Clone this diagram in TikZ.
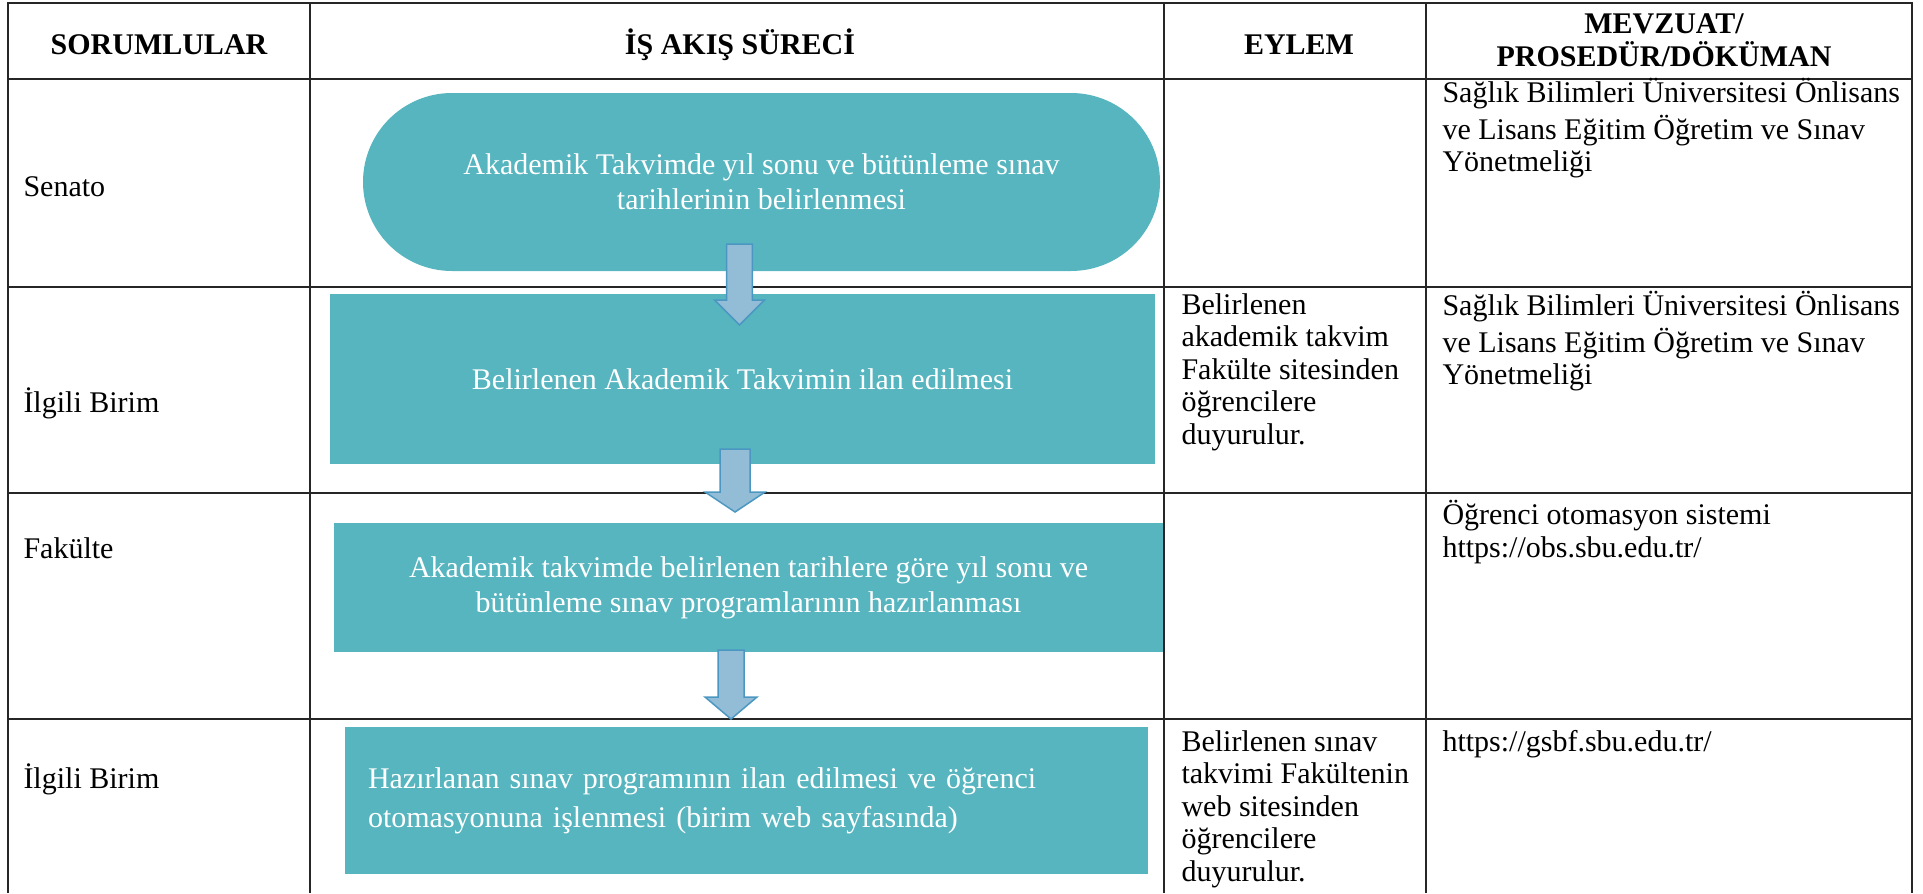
\documentclass[tikz,border=0pt]{standalone}
\usepackage{fontspec}
\setmainfont{Liberation Serif}
\usetikzlibrary{calc}
\definecolor{flowteal}{RGB}{86,181,191}
\definecolor{arrowblue}{RGB}{147,189,214}
\definecolor{arrowedge}{RGB}{75,151,194}
\tikzset{
  gridline/.style={line width=0.8pt, draw=black!85},
  headtext/.style={font=\bfseries\fontsize{12}{13.2}\selectfont, align=center, inner sep=0pt},
  rowlabel/.style={font=\fontsize{12}{13.6}\selectfont, anchor=base west, inner sep=0pt},
  celltext/.style={font=\fontsize{12}{13}\selectfont, anchor=north west, align=left, inner sep=0pt},
  flowbox/.style={fill=flowteal, text=white, inner sep=0pt, align=center, font=\fontsize{12}{14}\selectfont},
  blockarrow/.style={fill=arrowblue, draw=arrowedge, line width=0.6pt, line join=miter}
}
\newcommand{\flowarrow}[5]{%
  \draw[blockarrow] ($(#1)+(-#3,0)$) -- ($(#1)+(#3,0)$) -- ($(#2)+(#3,-#5)$) -- ($(#2)+(#4,-#5)$)
    -- (#2) -- ($(#2)+(-#4,-#5)$) -- ($(#2)+(-#3,-#5)$) -- cycle;}
\begin{document}
\begin{tikzpicture}[x=0.4pt, y=-0.4pt]
    \useasboundingbox (0,0) rectangle (1923,893);
    \draw[gridline] (8,893) -- (8,3) -- (1912,3) -- (1912,893);
    \draw[gridline] (310,3) -- (310,893);
    \draw[gridline] (1164,3) -- (1164,893);
    \draw[gridline] (1426,3) -- (1426,893);
    \draw[gridline, line width=1.1pt] (8,79) -- (1912,79);
    \draw[gridline] (8,287) -- (1912,287);
    \draw[gridline] (8,493) -- (1912,493);
    \draw[gridline] (8,719) -- (1912,719);

    \node[headtext] (h1) at (159,45) {SORUMLULAR};
    \node[headtext] (h2) at (740,45) {İŞ AKIŞ SÜRECİ};
    \node[headtext] (h3) at (1299,45) {EYLEM};
    \node[headtext] (h4) at (1664,40) {MEVZUAT/\\PROSEDÜR/DÖKÜMAN};

    \node[rowlabel] (r1) at (23,196) {Senato};
    \node[rowlabel] (r2) at (23,412) {İlgili Birim};
    \node[rowlabel] (r3) at (23,558) {Fakülte};
    \node[rowlabel] (r4) at (23,788) {İlgili Birim};

    \node[flowbox, rounded corners=35.6pt, minimum width=318.8pt, minimum height=71.2pt] (s1) at (761.5,182)
        {Akademik Takvimde yıl sonu ve bütünleme sınav\\tarihlerinin belirlenmesi};
    \node[flowbox, minimum width=330pt, minimum height=68pt] (s2) at (742.5,379)
        {Belirlenen Akademik Takvimin ilan edilmesi};
    \node[flowbox, minimum width=331.6pt, minimum height=51.6pt] (s3) at (748.5,587.5)
        {Akademik takvimde belirlenen tarihlere göre yıl sonu ve\\bütünleme sınav programlarının hazırlanması};
    \node[flowbox, minimum width=321.2pt, minimum height=58.8pt, align=left, text width=302.8pt,
        inner xsep=9.2pt, font=\fontsize{12}{15.6}\selectfont] (s4) at (746.5,800.5)
        {Hazırlanan sınav programının ilan edilmesi ve öğrenci\\otomasyonuna işlenmesi (birim web sayfasında)};

    \coordinate (a1s) at (739.5,244);
    \coordinate (a1e) at (739.5,325);
    \coordinate (a2s) at (735,449);
    \coordinate (a2e) at (735,512);
    \coordinate (a3s) at (731,650);
    \coordinate (a3e) at (731,719);
    \flowarrow{a1s}{a1e}{12.8}{25}{25}
    \flowarrow{a2s}{a2e}{15}{30}{20}
    \flowarrow{a3s}{a3e}{13}{26}{22}

    \node[celltext] (e2) at (1181,291)
        {\strut Belirlenen\\akademik takvim\\Fakülte sitesinden\\öğrencilere\\duyurulur.};
    \node[celltext] (e4) at (1181,728)
        {\strut Belirlenen sınav\\takvimi Fakültenin\\web sitesinden\\öğrencilere\\duyurulur.};

    \node[celltext] (m1) at (1442,78)
        {\strut Sağlık Bilimleri Üniversitesi Önlisans\\ve Lisans Eğitim Öğretim ve Sınav\\Yönetmeliği};
    \node[celltext] (m2) at (1442,291)
        {\strut Sağlık Bilimleri Üniversitesi Önlisans\\ve Lisans Eğitim Öğretim ve Sınav\\Yönetmeliği};
    \node[celltext] (m3) at (1442,500)
        {\strut Öğrenci otomasyon sistemi\\https://obs.sbu.edu.tr/};
    \node[celltext] (m4) at (1442,728)
        {\strut https://gsbf.sbu.edu.tr/};
\end{tikzpicture}
\end{document}
